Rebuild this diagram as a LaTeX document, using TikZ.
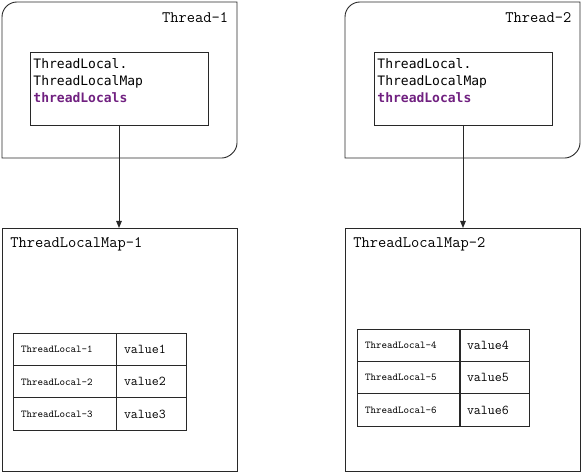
\documentclass[tikz,border=0pt]{standalone}
\usepackage{fontspec}
\newfontfamily\codefont{DejaVu Sans Mono}
\usetikzlibrary{arrows.meta}
\definecolor{kw}{RGB}{112,32,128}
\definecolor{ln}{RGB}{40,40,40}
\begin{document}
\begin{tikzpicture}[x=1pt,y=-1pt,line width=0.9pt,
  box/.style={draw=ln,inner sep=0pt,outer sep=0pt,anchor=north west},
  code/.style={anchor=base west,inner sep=0pt,font=\codefont\fontsize{13}{15}\selectfont},
  codekw/.style={code,text=kw,font=\codefont\bfseries\fontsize{13}{15}\selectfont},
  title/.style={inner sep=0pt,font=\ttfamily\fontsize{16}{18}\selectfont},
  keycell/.style={box,minimum width=103pt,minimum height=32.2pt,text width=87pt,inner xsep=8pt,align=left,font=\ttfamily\fontsize{10.5}{12}\selectfont},
  valcell/.style={box,minimum width=70pt,minimum height=32.2pt,text width=54pt,inner xsep=8pt,align=left,font=\ttfamily\fontsize{13.5}{15}\selectfont},
  conn/.style={draw=ln,-{Triangle[length=7pt,width=5.5pt]}}]
\useasboundingbox (0,0) rectangle (582,473);

% ---------- Thread 1 ----------
\draw[ln] (2,158) -- (2,17) .. controls (2,8.7) and (8.7,2) .. (17,2) -- (237,2) -- (237,143)
  .. controls (237,151.3) and (228.7,158) .. (222,158) -- cycle;
\node[title,anchor=base east] (th1) at (228.5,22.7) {Thread-1};
\node[box,minimum width=178pt,minimum height=73pt] (in1) at (30,52) {};
\node[code] (in1a) at (33,68.3) {ThreadLocal.};
\node[code] (in1b) at (33,85.5) {ThreadLocalMap};
\node[codekw] (in1c) at (33,102.5) {threadLocals};

\node[box,minimum width=235pt,minimum height=243pt] (map1) at (2,228) {};
\node[title,anchor=base west] (ml1) at (10,247.5) {ThreadLocalMap-1};
\draw[conn] (in1.south) -- (in1.south |- map1.north);

\node[keycell] (k1) at (13,333.5) {ThreadLocal-1};
\node[valcell] (v1) at (116,333.5) {value1};
\node[keycell] (k2) at (13,365.7) {ThreadLocal-2};
\node[valcell] (v2) at (116,365.7) {value2};
\node[keycell] (k3) at (13,397.9) {ThreadLocal-3};
\node[valcell] (v3) at (116,397.9) {value3};

% ---------- Thread 2 ----------
\draw[ln] (345,158) -- (345,17) .. controls (345,8.7) and (351.7,2) .. (360,2) -- (580,2) -- (580,143)
  .. controls (580,151.3) and (571.7,158) .. (565,158) -- cycle;
\node[title,anchor=base east] (th2) at (571.7,22.7) {Thread-2};
\node[box,minimum width=178pt,minimum height=73pt] (in2) at (374,52) {};
\node[code] (in2a) at (377,68.3) {ThreadLocal.};
\node[code] (in2b) at (377,85.5) {ThreadLocalMap};
\node[codekw] (in2c) at (377,102.5) {threadLocals};

\node[box,minimum width=235pt,minimum height=243pt] (map2) at (345,228) {};
\node[title,anchor=base west] (ml2) at (353,247.5) {ThreadLocalMap-2};
\draw[conn] (in2.south) -- (in2.south |- map2.north);

\node[keycell] (k4) at (357,329.5) {ThreadLocal-4};
\node[valcell] (v4) at (459,329.5) {value4};
\node[keycell] (k5) at (357,361.7) {ThreadLocal-5};
\node[valcell] (v5) at (459,361.7) {value5};
\node[keycell] (k6) at (357,393.9) {ThreadLocal-6};
\node[valcell] (v6) at (459,393.9) {value6};
\end{tikzpicture}
\end{document}
